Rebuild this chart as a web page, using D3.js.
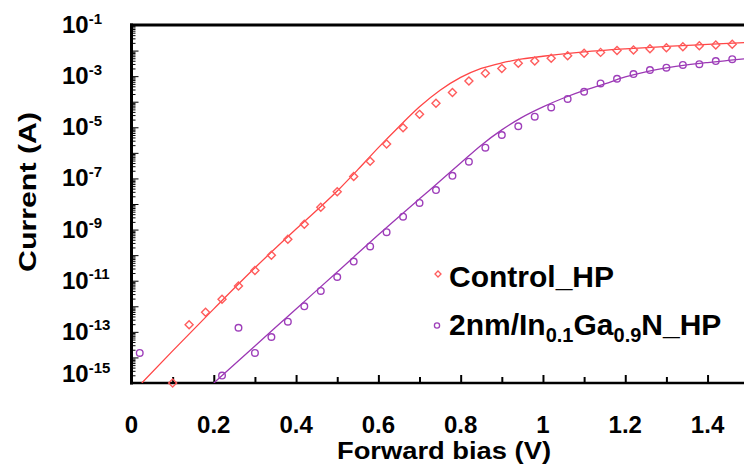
<!DOCTYPE html>
<html>
<head>
<meta charset="utf-8">
<script src="https://cdn.jsdelivr.net/npm/d3@7"></script>
<style>
  body { margin: 0; background: #fff; }
  svg { display: block; }
  text { font-family: "Liberation Sans", Arial, sans-serif; font-weight: bold; fill: #000; }
</style>
</head>
<body>
<svg id="chart" width="744" height="469"></svg>
<script>
// Measured I-V points, Control_HP (diamonds)
const ctrlV = [0.10, 0.14, 0.18, 0.22, 0.26, 0.30, 0.34, 0.38, 0.42, 0.46, 0.50, 0.54, 0.58, 0.62,
  0.66, 0.70, 0.74, 0.78, 0.82, 0.86, 0.90, 0.94, 0.98, 1.02, 1.06, 1.10, 1.14, 1.18, 1.22, 1.26,
  1.30, 1.34, 1.38, 1.42, 1.46];
const ctrlI = [1.0e-15, 1.9e-13, 5.8e-13, 1.9e-12, 6.2e-12, 2.5e-11, 1.0e-10, 4.2e-10, 1.6e-9, 7.4e-9,
  3.0e-8, 1.2e-7, 4.7e-7, 2.2e-6, 9.5e-6, 3.2e-5, 8.7e-5, 2.3e-4, 6.5e-4, 1.3e-3, 2.0e-3, 3.2e-3,
  3.9e-3, 5.0e-3, 6.3e-3, 7.8e-3, 8.5e-3, 1.0e-2, 1.05e-2, 1.17e-2, 1.29e-2, 1.41e-2, 1.55e-2,
  1.66e-2, 1.78e-2];

// Measured I-V points, 2nm/In0.1Ga0.9N_HP (circles)
const inganV = [0.02, 0.22, 0.26, 0.30, 0.34, 0.38, 0.42, 0.46, 0.50, 0.54, 0.58, 0.62, 0.66, 0.70,
  0.74, 0.78, 0.82, 0.86, 0.90, 0.94, 0.98, 1.02, 1.06, 1.10, 1.14, 1.18, 1.22, 1.26, 1.30, 1.34,
  1.38, 1.42, 1.46];
const inganI = [1.5e-14, 1.95e-15, 1.45e-13, 1.5e-14, 6.3e-14, 2.5e-13, 1.0e-12, 4.0e-12, 1.4e-11,
  5.6e-11, 2.2e-10, 7.9e-10, 3.2e-9, 1.1e-8, 3.5e-8, 1.26e-7, 4.5e-7, 1.6e-6, 5.0e-6, 1.1e-5,
  2.6e-5, 6.0e-5, 1.29e-4, 2.45e-4, 5.2e-4, 7.9e-4, 1.2e-3, 1.74e-3, 2.14e-3, 2.75e-3, 2.95e-3,
  3.9e-3, 4.6e-3];

// Fitted diode curves
const ctrlFitV = [0.025, 0.1, 0.2, 0.3, 0.4, 0.5, 0.55, 0.6, 0.65, 0.7, 0.75, 0.8, 0.85, 0.9, 0.95,
  1.0, 1.1, 1.2, 1.3, 1.4, 1.5];
const ctrlFitI = [1.0e-15, 1.8e-14, 7.9e-13, 3.2e-11, 1.05e-9, 3.2e-8, 2.2e-7, 1.6e-6, 1.05e-5,
  6.3e-5, 2.8e-4, 8.9e-4, 2.0e-3, 3.3e-3, 4.7e-3, 6.0e-3, 8.9e-3, 1.17e-2, 1.45e-2, 1.74e-2, 2.1e-2];
const inganFitV = [0.2, 0.3, 0.4, 0.5, 0.6, 0.7, 0.75, 0.8, 0.85, 0.9, 0.95, 1.0, 1.05, 1.1, 1.15,
  1.2, 1.25, 1.3, 1.35, 1.4, 1.45, 1.5];
const inganFitI = [1.0e-15, 2.8e-14, 7.9e-13, 2.2e-11, 6.3e-10, 1.6e-8, 7.9e-8, 4.0e-7, 2.0e-6,
  7.9e-6, 2.5e-5, 6.3e-5, 1.4e-4, 2.8e-4, 5.0e-4, 9.3e-4, 1.48e-3, 2.1e-3, 2.75e-3, 3.4e-3,
  4.1e-3, 4.9e-3];

// Axis ticks and labels
const xMajor = [0, 0.2, 0.4, 0.6, 0.8, 1.0, 1.2, 1.4];
const xMajorLabels = ["0", "0.2", "0.4", "0.6", "0.8", "1", "1.2", "1.4"];
const xMinor = [0.1, 0.3, 0.5, 0.7, 0.9, 1.1, 1.3, 1.5];
const yLabelExponents = [-1, -3, -5, -7, -9, -11, -13, -15];

const seriesNames = ["Control_HP", "2nm/In0.1Ga0.9N_HP"];
const ctrlLine = "#ff4646", ctrlMark = "#ff5c5c";
const inganLine = "#9c38b4", inganMark = "#9e3fba";

const svg = d3.select("#chart");
const x = d3.scaleLinear().domain([0, 1.5]).range([131.5, 748.7]);
const y = d3.scaleLog().domain([1e-15, 1e-1]).range([383, 25]);

svg.append("defs").append("clipPath").attr("id", "plotClip")
  .append("rect").attr("x", 131.5).attr("y", 25).attr("width", 620).attr("height", 358);

// Y axis: decade ticks and log minor ticks pointing inward
const yMajorVals = d3.range(-15, 0).map(e => Math.pow(10, e));
const yMinorVals = [];
for (let e = -15; e < -1; e++) for (let m = 2; m <= 9; m++) yMinorVals.push(m * Math.pow(10, e));

const yAxisMinor = d3.axisLeft(y).tickValues(yMinorVals).tickSizeInner(-4).tickSizeOuter(0).tickFormat("");
const yAxisMajor = d3.axisLeft(y).tickValues(yMajorVals).tickSizeInner(-7).tickSizeOuter(0).tickFormat("");
[yAxisMinor, yAxisMajor].forEach(ax => {
  const g = svg.append("g").attr("transform", `translate(${x(0)},0)`).call(ax);
  g.select(".domain").remove();
  g.selectAll(".tick line").attr("stroke", "#000").attr("stroke-width", 1);
});

// X axis: ticks pointing up
const xAxisMinor = d3.axisBottom(x).tickValues(xMinor).tickSizeInner(-6).tickSizeOuter(0).tickFormat("");
const xAxisMajor = d3.axisBottom(x).tickValues(xMajor.slice(1)).tickSizeInner(-8).tickSizeOuter(0).tickFormat("");
[xAxisMinor, xAxisMajor].forEach(ax => {
  const g = svg.append("g").attr("transform", `translate(0,${y(1e-15)})`).call(ax);
  g.select(".domain").remove();
  g.selectAll(".tick line").attr("stroke", "#000").attr("stroke-width", 2);
});

// Frame lines
svg.append("line").attr("x1", x(0) - 1.5).attr("x2", 744).attr("y1", y(1e-1)).attr("y2", y(1e-1))
  .attr("stroke", "#000").attr("stroke-width", 3);
svg.append("line").attr("x1", x(0)).attr("x2", x(0)).attr("y1", y(1e-1) - 1.5).attr("y2", y(1e-15) + 1.5)
  .attr("stroke", "#000").attr("stroke-width", 3);
svg.append("line").attr("x1", x(0) - 1.5).attr("x2", 744).attr("y1", y(1e-15)).attr("y2", y(1e-15))
  .attr("stroke", "#000").attr("stroke-width", 2.5);

// Tick labels
svg.append("g").selectAll("text").data(xMajor).join("text")
  .attr("x", d => x(d)).attr("y", 433).attr("text-anchor", "middle")
  .attr("font-size", 24).text((d, i) => xMajorLabels[i]);

// The lowest decade label is lifted clear of the x axis
const yl = svg.append("g").selectAll("text").data(yLabelExponents).join("text")
  .attr("x", 62).attr("y", d => y(Math.pow(10, d)) + (d === -15 ? -1 : 8))
  .attr("font-size", 24);
yl.append("tspan").text("10");
yl.append("tspan").attr("font-size", 15).attr("dy", -9.5).text(d => String(d));

// Axis titles
svg.append("text").attr("x", 444).attr("y", 459).attr("text-anchor", "middle")
  .attr("font-size", 23).attr("textLength", 214).attr("lengthAdjust", "spacingAndGlyphs")
  .text("Forward bias (V)");
svg.append("text").attr("transform", "translate(36,192) rotate(-90)").attr("text-anchor", "middle")
  .attr("font-size", 24).attr("textLength", 160).attr("lengthAdjust", "spacingAndGlyphs")
  .text("Current (A)");

// Fitted curves
const line = d3.line().x(d => x(d[0])).y(d => y(d[1])).curve(d3.curveMonotoneX);
const plot = svg.append("g").attr("clip-path", "url(#plotClip)");
plot.append("path").datum(d3.zip(ctrlFitV, ctrlFitI)).attr("d", line)
  .attr("fill", "none").attr("stroke", ctrlLine).attr("stroke-width", 1.3);
plot.append("path").datum(d3.zip(inganFitV, inganFitI)).attr("d", line)
  .attr("fill", "none").attr("stroke", inganLine).attr("stroke-width", 1.3);

// Measured points
const diamond = s => `M0,${-s}L${s},0L0,${s}L${-s},0Z`;
svg.append("g").selectAll("path").data(d3.zip(ctrlV, ctrlI)).join("path")
  .attr("transform", d => `translate(${x(d[0])},${y(d[1])})`)
  .attr("d", diamond(4)).attr("fill", "none").attr("stroke", ctrlMark).attr("stroke-width", 1.4);
svg.append("g").selectAll("circle").data(d3.zip(inganV, inganI)).join("circle")
  .attr("cx", d => x(d[0])).attr("cy", d => y(d[1])).attr("r", 3.3)
  .attr("fill", "none").attr("stroke", inganMark).attr("stroke-width", 1.4);

// Legend
const lg = svg.append("g");
lg.append("path").attr("transform", "translate(438,274)").attr("d", diamond(3))
  .attr("fill", "none").attr("stroke", ctrlMark).attr("stroke-width", 1.3);
lg.append("circle").attr("cx", 437).attr("cy", 325.5).attr("r", 2.6)
  .attr("fill", "none").attr("stroke", inganMark).attr("stroke-width", 1.3);
lg.append("text").attr("x", 449).attr("y", 286.5).attr("font-size", 30).text(seriesNames[0]);
const t2 = lg.append("text").attr("x", 449).attr("y", 335).attr("font-size", 30);
t2.append("tspan").text("2nm/In");
t2.append("tspan").attr("font-size", 20).attr("dy", 7).text("0.1");
t2.append("tspan").attr("dy", -7).text("Ga");
t2.append("tspan").attr("font-size", 20).attr("dy", 7).text("0.9");
t2.append("tspan").attr("dy", -7).text("N_HP");
</script>
</body>
</html>
